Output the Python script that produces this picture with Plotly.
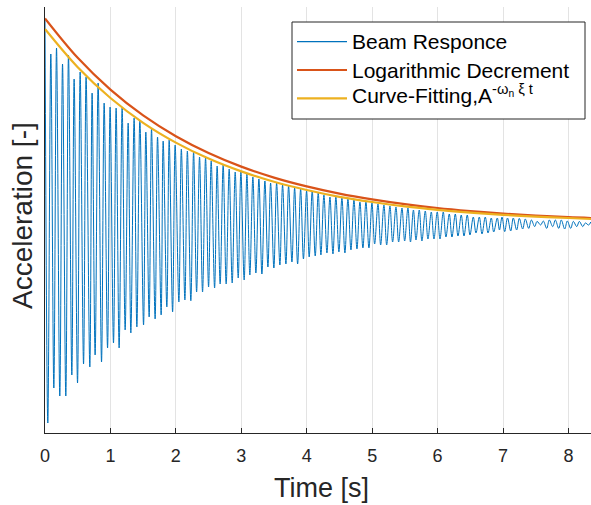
import plotly.graph_objects as go

# ---- data ----
# positive peaks of the beam response: time [s], acceleration [-]
pos_t = [0.000, 0.089, 0.176, 0.268, 0.359, 0.445, 0.537, 0.628, 0.720, 0.812,
         0.904, 0.995, 1.087, 1.179, 1.271, 1.362, 1.450, 1.541, 1.628, 1.720,
         1.806, 1.898, 1.989, 2.084, 2.176, 2.271, 2.362, 2.454, 2.540, 2.631,
         2.723, 2.815, 2.907, 2.994, 3.086, 3.177, 3.269, 3.361, 3.448, 3.540,
         3.631, 3.723, 3.815, 3.907, 3.998, 4.084, 4.176, 4.263, 4.355, 4.446,
         4.538, 4.630, 4.722, 4.813, 4.905, 4.997, 5.089, 5.180, 5.272, 5.364,
         5.456, 5.547, 5.631, 5.720, 5.812, 5.904, 5.995, 6.087, 6.179, 6.271,
         6.362, 6.454, 6.546, 6.638, 6.729, 6.821, 6.913, 6.985, 7.069, 7.157,
         7.249, 7.341, 7.433, 7.520, 7.616, 7.708, 7.800, 7.891, 7.983, 8.075,
         8.167, 8.258, 8.341]
pos_a = [10.30, 8.55, 8.85, 8.05, 8.50, 7.30, 7.65, 7.40, 6.60, 7.10,
         6.10, 5.90, 5.85, 5.85, 5.10, 5.35, 5.25, 4.65, 4.80, 4.40,
         4.20, 4.25, 4.00, 3.80, 3.70, 3.65, 3.40, 3.35, 3.20, 2.95,
         3.00, 2.80, 2.65, 2.65, 2.55, 2.40, 2.30, 2.20, 2.10, 2.10,
         2.00, 1.95, 1.85, 1.80, 1.70, 1.70, 1.60, 1.50, 1.40, 1.40,
         1.35, 1.30, 1.25, 1.15, 1.15, 1.10, 1.05, 1.00, 0.95, 0.90,
         0.85, 0.85, 0.75, 0.75, 0.70, 0.65, 0.65, 0.65, 0.55, 0.55,
         0.50, 0.50, 0.40, 0.40, 0.40, 0.35, 0.35, 0.40, 0.35, 0.35,
         0.33, 0.30, 0.25, 0.18, 0.20, 0.25, 0.25, 0.25, 0.20, 0.18,
         0.18, 0.10, 0.15]

# negative peaks of the beam response
neg_t = [0.043, 0.135, 0.226, 0.318, 0.410, 0.497, 0.589, 0.685, 0.766, 0.864,
         0.956, 1.047, 1.133, 1.225, 1.312, 1.404, 1.506, 1.592, 1.683, 1.775,
         1.862, 1.950, 2.046, 2.138, 2.229, 2.317, 2.408, 2.500, 2.592, 2.677,
         2.769, 2.861, 2.953, 3.044, 3.131, 3.223, 3.315, 3.407, 3.498, 3.590,
         3.682, 3.774, 3.861, 3.950, 4.038, 4.130, 4.217, 4.309, 4.401, 4.492,
         4.584, 4.676, 4.768, 4.859, 4.951, 5.038, 5.130, 5.222, 5.313, 5.405,
         5.497, 5.586, 5.670, 5.761, 5.853, 5.945, 6.037, 6.128, 6.220, 6.312,
         6.404, 6.495, 6.587, 6.679, 6.771, 6.858, 6.946, 7.026, 7.118, 7.209,
         7.301, 7.393, 7.485, 7.576, 7.668, 7.760, 7.852, 7.943, 8.035, 8.127,
         8.219, 8.310]
neg_a = [-9.90, -8.15, -8.55, -8.55, -7.50, -7.90, -6.95, -7.10, -6.50, -6.85,
         -6.15, -5.90, -6.15, -5.25, -5.40, -5.10, -5.00, -4.60, -4.70, -4.50,
         -4.10, -4.35, -3.85, -3.75, -3.79, -3.35, -3.35, -3.10, -3.15, -2.95,
         -2.95, -2.90, -2.65, -2.75, -2.50, -2.40, -2.45, -2.10, -2.15, -2.00,
         -1.95, -1.85, -1.95, -1.70, -1.60, -1.55, -1.50, -1.40, -1.45, -1.35,
         -1.40, -1.25, -1.20, -1.15, -1.15, -0.95, -1.00, -1.00, -0.85, -0.85,
         -0.80, -0.85, -0.75, -0.80, -0.70, -0.70, -0.70, -0.60, -0.60, -0.55,
         -0.55, -0.50, -0.40, -0.45, -0.40, -0.35, -0.25, -0.33, -0.30, -0.25,
         -0.20, -0.17, -0.08, 0.00, -0.17, -0.08, -0.17, -0.20, -0.17, -0.08,
         -0.08, 0.00]

# envelopes
env_t = [0.0, 0.5, 1.0, 1.5, 2.0, 2.5, 3.0, 3.5, 4.0, 4.5, 5.0, 5.5, 6.0,
         6.5, 7.0, 7.5, 8.0, 8.35]
logdec_a = [10.33, 8.36, 6.77, 5.48, 4.44, 3.60, 2.92, 2.37, 1.93, 1.57, 1.28,
            1.04, 0.85, 0.70, 0.57, 0.47, 0.39, 0.35]
curvefit_a = [9.80, 7.89, 6.35, 5.11, 4.12, 3.32, 2.68, 2.16, 1.75, 1.41, 1.15,
              0.93, 0.76, 0.62, 0.51, 0.42, 0.35, 0.30]

x_ticks = [0, 1, 2, 3, 4, 5, 6, 7, 8]

series_names = ["Beam Responce", "Logarithmic Decrement",
                "Curve-Fitting,A<sup>-ω<sub>n</sub> ξ t</sup>"]
series_colors = ["#0072BD", "#D95319", "#EDB120"]
series_widths = [1.2, 2.2, 2.2]

# ---- build the response trace from the peaks ----
pts = sorted(zip(pos_t + neg_t, pos_a + neg_a))
sig_t = [p[0] for p in pts]
sig_a = [p[1] for p in pts]

FONT = "Liberation Sans, Arial, Helvetica, sans-serif"
AX = "#262626"

# plot-area geometry in pixels (used for layout placement only)
W, H = 591, 505
L, R, T, B = 45, 0, 7, 72
PW, PH = W - L - R, H - T - B


def px_x(px):
    return (px - L) / PW


def px_y(py):
    return (H - B - py) / PH


fig = go.Figure()
fig.add_trace(go.Scatter(x=sig_t, y=sig_a, mode="lines", name=series_names[0],
                         line=dict(color=series_colors[0], width=1, shape="spline", smoothing=1)))
fig.add_trace(go.Scatter(x=env_t, y=logdec_a, mode="lines", name=series_names[1],
                         line=dict(color=series_colors[1], width=2.2, shape="spline")))
fig.add_trace(go.Scatter(x=env_t, y=curvefit_a, mode="lines", name=series_names[2],
                         line=dict(color=series_colors[2], width=2.2, shape="spline")))

# ---- legend drawn as shapes + annotations (MATLAB style) ----
shapes = [dict(type="rect", xref="paper", yref="paper",
               x0=px_x(292), x1=px_x(585), y0=px_y(119), y1=px_y(22),
               line=dict(color=AX, width=1), fillcolor="white", layer="above")]
annotations = []
row_y = [41.7, 70.0, 98.3]
for i in range(3):
    shapes.append(dict(type="line", xref="paper", yref="paper",
                       x0=px_x(297), x1=px_x(347), y0=px_y(row_y[i]), y1=px_y(row_y[i]),
                       line=dict(color=series_colors[i], width=series_widths[i]), layer="above"))
    annotations.append(dict(text=series_names[i], xref="paper", yref="paper",
                            x=px_x(350), y=px_y(row_y[i]), xanchor="left", yanchor="middle",
                            yshift=(4 if i == 2 else 0),
                            showarrow=False, font=dict(family=FONT, size=21, color="black")))

# axis titles
annotations.append(dict(text="Time [s]", xref="paper", yref="paper", x=px_x(321), y=px_y(488),
                        xanchor="center", yanchor="middle", showarrow=False,
                        font=dict(family=FONT, size=27, color=AX)))
annotations.append(dict(text="Acceleration [-]", xref="paper", yref="paper", x=px_x(22), y=px_y(216),
                        xanchor="center", yanchor="middle", textangle=-90, showarrow=False,
                        font=dict(family=FONT, size=28, color=AX)))

fig.update_layout(
    width=W, height=H,
    margin=dict(l=L, r=R, t=T, b=B, autoexpand=False),
    paper_bgcolor="white", plot_bgcolor="white",
    font=dict(family=FONT, color=AX, size=18),
    showlegend=False,
    shapes=shapes, annotations=annotations,
)
fig.update_xaxes(range=[0, 8.345], tickvals=x_ticks, ticks="inside", ticklen=5,
                 tickcolor=AX, showline=True, linecolor=AX, linewidth=1,
                 showgrid=True, gridcolor="#e3e3e3", gridwidth=1, zeroline=False,
                 automargin=False, ticklabelstandoff=6,
                 tickfont=dict(family=FONT, size=18, color=AX))
fig.update_yaxes(range=[-10.4, 10.9], showticklabels=False, ticks="", showgrid=False,
                 zeroline=False, showline=True, linecolor=AX, linewidth=1, automargin=False)

fig.write_html("out.html", config={"displayModeBar": False},
               post_script="document.body.style.margin='0px';document.body.style.overflow='hidden';")
